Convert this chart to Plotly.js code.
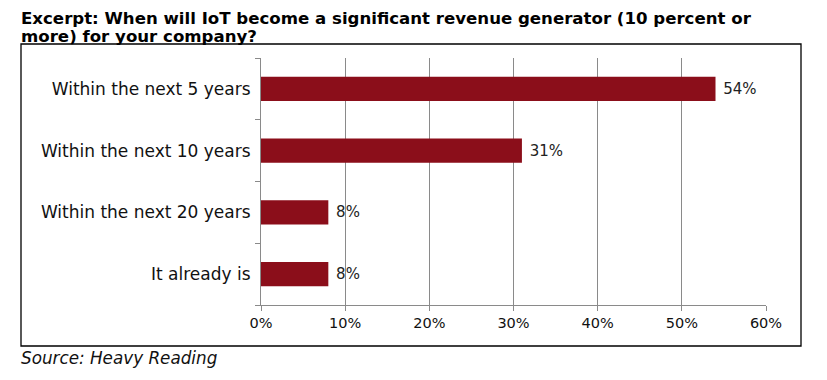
<!DOCTYPE html>
<html><head><meta charset="utf-8">
<script src="https://cdn.plot.ly/plotly-3.0.1.min.js"></script>
<style>body{margin:0;background:#fff}#c{width:827px;height:380px}</style>
</head><body><div id="c"></div>
<script>
const categories = ["It already is", "Within the next 20 years", "Within the next 10 years", "Within the next 5 years"];
const values = [8, 8, 31, 54];
const labels = ["8%", "8%", "31%", "54%"];
const xTickVals = [0, 10, 20, 30, 40, 50, 60];
const xTickText = ["0%", "10%", "20%", "30%", "40%", "50%", "60%"];
const titleLines = ["Excerpt: When will IoT become a significant revenue generator (10 percent or", "more) for your company?"];
const sourceText = "Source: Heavy Reading";

const fnt = "DejaVu Sans, Verdana, sans-serif";
const L = 261, R = 766, T = 58, B = 305, W = 827, H = 380;
const pw = R - L, ph = B - T;
const px = v => (v - L) / pw, py = v => (B - v) / ph;

Plotly.newPlot("c", [{
  type: "bar", orientation: "h",
  y: categories, x: values,
  text: labels.map(s => "\u00a0" + s), textposition: "outside", cliponaxis: false,
  constraintext: "none",
  textfont: {family: fnt, size: 15, color: "#222"},
  marker: {color: "#8B0E1A"},
  hoverinfo: "none"
}], {
  width: W, height: H,
  margin: {l: L, r: W - R, t: T, b: H - B},
  paper_bgcolor: "#fff", plot_bgcolor: "#fff",
  bargap: 0.61,
  font: {family: fnt, size: 14, color: "#111"},
  xaxis: {range: [0, 60], tickvals: xTickVals, ticktext: xTickText,
    showgrid: true, gridcolor: "#8a8a8a", gridwidth: 1,
    showline: true, linecolor: "#8a8a8a", linewidth: 1,
    ticks: "outside", ticklen: 5, tickcolor: "#8a8a8a",
    zeroline: false, fixedrange: true,
    tickfont: {family: fnt, size: 14.5, color: "#111"}},
  yaxis: {showline: true, linecolor: "#8a8a8a", linewidth: 1,
    ticks: "outside", tickson: "boundaries", ticklen: 5, tickcolor: "#8a8a8a",
    showgrid: false, ticklabelstandoff: 6, fixedrange: true,
    tickfont: {family: fnt, size: 17, color: "#111"}},
  shapes: [{type: "rect", xref: "paper", yref: "paper",
    x0: px(21), x1: px(801), y0: py(346), y1: py(44),
    line: {color: "#000", width: 1.3}, fillcolor: "rgba(0,0,0,0)", layer: "below"}],
  annotations: [
    {xref: "paper", yref: "paper", x: px(19), y: py(7),
      xanchor: "left", yanchor: "top", showarrow: false,
      text: "<b>" + titleLines[0] + "</b>", font: {family: fnt, size: 16.6, color: "#000"}},
    {xref: "paper", yref: "paper", x: px(19), y: py(24.5),
      xanchor: "left", yanchor: "top", showarrow: false,
      text: "<b>" + titleLines[1] + "</b>", font: {family: fnt, size: 16.6, color: "#000"}},
    {xref: "paper", yref: "paper", x: px(19), y: py(358),
      xanchor: "left", yanchor: "middle", showarrow: false,
      text: "<i>" + sourceText + "</i>", font: {family: fnt, size: 16.8, color: "#111"}}],
  showlegend: false
}, {displayModeBar: false, staticPlot: true});
</script></body></html>
